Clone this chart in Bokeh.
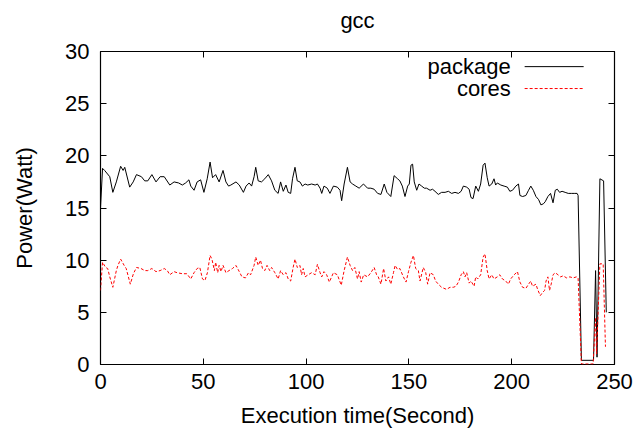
from bokeh.plotting import figure
from bokeh.models import LinearAxis, Range1d, Label, Arrow, FixedTicker
from bokeh.embed import file_html
from bokeh.resources import INLINE

# ---- data ----
pkg_t = [0, 1, 2, 4.5, 6, 7.7, 9.8, 11, 11.8, 14.2, 15.9, 17.5, 19.9, 21.5, 23, 25, 27, 29, 31, 33.7,
         35.8, 38, 39.8, 41.4, 43, 43.9, 45.5, 47, 48.7, 50.3, 51.9, 53.3, 54.5, 56, 57.7, 59.6, 61, 62.3,
         63.4, 65.9, 67.5, 69.5, 70.8, 72.3, 73.5, 74.7, 75.5, 76.7, 78.3, 79.9, 81.6, 83.2, 84.8, 86.4,
         87.6, 88.9, 90.2, 91.3, 92.5, 93.4, 94.6, 95.7, 97, 98.2, 99.5, 100.8, 102.7, 104.4, 105.5, 106.8,
         107.6, 108.7, 110.3, 111.6, 113.3, 115.2, 116.5, 117.3, 118.5, 120.1, 121.4, 122.6, 124.2, 125.8,
         127.9, 129.9, 131.5, 133.1, 134.8, 136.4, 138, 139.3, 141.2, 142.8, 144.5, 145.6, 146.8, 148.1,
         149.4, 150.2, 151, 151.8, 152.6, 153.8, 154.9, 156.2, 157.5, 158.6, 160.3, 161.5, 162.7, 164.3,
         165.9, 167.6, 169.2, 170.8, 172.4, 174.1, 175.4, 176.5, 178.1, 179.3, 180.2, 181.2, 182.5, 183.8,
         184.9, 186.1, 187, 188.1, 189, 190.3, 191.4, 192.2, 193, 194.7, 196.3, 197.9, 199.1, 200.4, 202,
         203.3, 204, 205.3, 206.9, 208.2, 209.3, 210.5, 211.8, 213.1, 214.2, 215.4, 216.3, 217.6, 218.9,
         220.1, 221.2, 222.2, 223.3, 224.5, 226, 227.5, 229, 230.7, 231.8, 232.3, 233.9, 239.8, 240.8,
         241.5, 242.9, 244.7, 246]
pkg_w = [15.0, 18.8, 18.6, 18.0, 16.5, 17.5, 19.0, 18.6, 18.9, 17.0, 17.5, 18.2, 18.0, 17.6, 17.6, 18.2,
         17.5, 18.0, 18.0, 17.2, 17.5, 17.4, 17.2, 17.4, 17.7, 17.1, 16.7, 17.5, 17.7, 16.5, 17.8, 19.4,
         17.9, 18.2, 17.5, 18.6, 17.5, 17.1, 17.2, 17.5, 17.2, 16.5, 17.1, 17.4, 17.1, 18.0, 18.9, 17.6,
         17.5, 17.8, 18.2, 17.6, 16.7, 16.4, 17.5, 16.6, 17.2, 16.5, 16.4, 17.8, 18.9, 17.6, 17.5, 17.1,
         17.3, 17.2, 17.3, 17.2, 17.3, 16.9, 16.4, 17.1, 16.9, 16.4, 17.1, 17.0, 16.7, 15.7, 17.3, 18.9,
         17.5, 17.3, 17.1, 16.9, 17.3, 16.9, 16.9, 16.8, 16.4, 16.3, 17.3, 16.5, 16.1, 18.1, 17.8, 17.6,
         17.1, 16.1, 17.1, 17.3, 19.1, 19.2, 17.5, 16.7, 17.3, 17.1, 16.9, 16.9, 16.7, 16.8, 16.6, 16.3,
         16.5, 16.5, 16.6, 16.4, 16.5, 16.4, 16.6, 17.1, 17.0, 16.8, 16.0, 15.9, 17.1, 16.6, 17.3, 19.1,
         19.3, 17.9, 17.1, 17.3, 17.8, 17.2, 17.4, 17.2, 17.1, 17.0, 16.6, 16.7, 17.1, 17.3, 16.2, 16.1,
         16.2, 16.7, 17.1, 16.7, 16.1, 15.8, 15.3, 15.4, 15.6, 16.1, 16.4, 15.5, 16.7, 16.8, 16.5, 16.6,
         16.5, 16.4, 16.4, 16.4, 16.4, 16.2, 0.4, 0.4, 9.0, 0.7, 17.8, 17.6, 5.0]

core_t = [0, 1, 2.5, 3.5, 4.5, 6, 7.7, 8.5, 9.8, 11.5, 12.5, 14.5, 16, 17.5, 19.7, 21.5, 23, 25, 27, 29,
          31, 32.5, 33.7, 35.8, 37.2, 39.8, 42, 43.9, 45.5, 47, 48.3, 49.6, 50.8, 52, 53.3, 54.2, 55.4,
          56, 57, 57.7, 58.6, 59.6, 61, 62.5, 64.2, 65.9, 67.5, 68.8, 70.5, 72, 73, 74.7, 75.5, 76.7, 77.8,
          78.8, 79.9, 81, 82.3, 83.2, 84.8, 86.4, 87.6, 88.9, 90.2, 91.3, 92.5, 93.7, 94.6, 95.7, 97, 97.8,
          98.6, 99.5, 101, 102.7, 104.4, 105.5, 106.8, 107.6, 108.7, 110, 111.3, 113.3, 115.2, 117.1,
          118.5, 120.1, 121.4, 122.6, 123.7, 125, 125.8, 126.8, 128, 129.9, 131.5, 133.1, 134.3, 135.1,
          136.4, 137.7, 138.8, 140.1, 141.2, 142.5, 143.3, 144.5, 145.6, 147.3, 148.6, 149.8, 151, 152.2,
          153.3, 154.6, 155.4, 157, 158.2, 159.1, 160.3, 161.9, 163, 164.3, 165.9, 168.3, 170, 171.6,
          172.9, 174.1, 175.4, 176.5, 177.3, 178.1, 179.3, 180.2, 181.7, 182.5, 183.5, 184.9, 186.1, 187,
          188.1, 189, 190.3, 191.4, 193, 194.2, 195.5, 197.1, 198.4, 199.5, 201.2, 202.8, 204, 205.3,
          206.9, 208.2, 209.3, 210.1, 211.8, 212.6, 213.9, 215, 216, 216.7, 217.6, 218.4, 219.2, 220.1,
          221.2, 222.5, 223.8, 225, 226.7, 228.3, 229.9, 231.5, 232.3, 233.9, 239.6, 240.8, 241.3, 242.9,
          244.5, 245.6]
core_w = [7.1, 9.8, 9.3, 9.2, 8.4, 7.4, 9.0, 9.5, 10.1, 9.5, 9.2, 7.7, 8.7, 9.3, 9.2, 9.0, 9.0, 9.2, 8.9,
          9.0, 9.2, 9.0, 8.6, 8.9, 8.8, 8.7, 8.7, 8.2, 8.8, 9.2, 9.3, 8.2, 8.05, 8.8, 10.45, 10.1, 9.0,
          9.8, 8.8, 9.5, 8.9, 9.5, 8.8, 9.0, 9.2, 9.5, 8.9, 8.4, 8.3, 8.8, 8.6, 9.5, 10.3, 9.5, 10.0, 9.2,
          9.0, 9.5, 9.0, 9.3, 8.8, 8.2, 9.0, 8.6, 8.8, 8.2, 8.0, 9.3, 10.1, 9.3, 9.5, 8.6, 9.2, 8.4, 8.6,
          8.8, 8.6, 9.6, 8.8, 8.4, 8.9, 8.6, 7.9, 8.8, 8.6, 7.6, 9.0, 10.3, 9.5, 9.0, 9.3, 8.2, 8.9, 7.9,
          8.6, 8.4, 8.8, 9.3, 8.6, 8.4, 7.7, 9.2, 8.0, 8.4, 7.7, 8.8, 9.5, 9.1, 9.2, 8.4, 7.9, 8.9, 9.8,
          10.45, 9.2, 9.0, 8.0, 9.3, 8.8, 7.7, 8.8, 8.6, 8.0, 7.7, 7.4, 7.2, 7.4, 7.4, 7.5, 7.9, 8.6, 8.9,
          8.4, 8.8, 7.8, 8.0, 7.5, 8.4, 8.2, 8.6, 10.3, 10.6, 9.0, 8.2, 8.6, 8.2, 8.4, 8.6, 8.2, 8.0, 7.7,
          8.2, 8.6, 8.9, 7.9, 7.4, 7.3, 7.7, 8.0, 7.5, 7.7, 7.2, 6.6, 6.9, 7.1, 8.0, 8.4, 7.1, 7.7, 8.6,
          8.8, 8.6, 8.4, 8.5, 8.3, 8.4, 8.3, 8.4, 8.3, 0.05, 0.05, 4.5, 1.0, 9.65, 9.65, 1.7]

x_ticks = [0, 50, 100, 150, 200, 250]
y_ticks = [0, 5, 10, 15, 20, 25, 30]
series_names = ["package", "cores"]
title_text = "gcc"

FONT = "Liberation Sans"
FS = "22px"

p = figure(width=635, height=438, output_backend="svg", toolbar_location=None,
           x_range=Range1d(0, 250), y_range=Range1d(0, 30),
           x_axis_location=None, y_axis_location=None,
           min_border_left=100, min_border_right=21, min_border_top=51, min_border_bottom=74)
p.background_fill_color = "white"
p.border_fill_color = "white"
p.outline_line_color = "black"
p.outline_line_width = 1.2
p.xgrid.visible = False
p.ygrid.visible = False

def style_axis(ax, ticks, labels=True, label=None):
    ax.ticker = FixedTicker(ticks=ticks)
    ax.axis_line_color = None
    ax.major_tick_in = 6
    ax.major_tick_out = 0
    ax.major_tick_line_color = "black"
    ax.minor_tick_line_color = None
    ax.major_label_text_font = FONT
    ax.major_label_text_font_size = FS
    ax.major_label_text_color = "black"
    if not labels:
        ax.major_label_text_font_size = "0px"
        ax.major_label_text_color = None
        ax.major_label_standoff = 0
    if label:
        ax.axis_label = label
        ax.axis_label_text_font = FONT
        ax.axis_label_text_font_size = FS
        ax.axis_label_text_font_style = "normal"
        ax.axis_label_text_color = "black"

xb = LinearAxis(); style_axis(xb, x_ticks, True, "Execution time(Second)")
xb.major_label_standoff = 9
xb.axis_label_standoff = 11
yl = LinearAxis(); style_axis(yl, y_ticks, True, "Power(Watt)")
yl.major_label_standoff = 11
yl.axis_label_standoff = 25
# top axis carries the mirrored ticks and the chart title
xt = LinearAxis(); style_axis(xt, x_ticks, False, title_text)
xt.axis_label_standoff = 19
yr = LinearAxis(); style_axis(yr, y_ticks, False)
p.add_layout(xb, "below")
p.add_layout(yl, "left")
p.add_layout(xt, "above")
p.add_layout(yr, "right")

p.line(pkg_t, pkg_w, line_color="black", line_width=1)
p.line(core_t, core_w, line_color="red", line_width=1, line_dash="3 2")

# gnuplot-style key: text on the left, sample on the right
key_y = [28.55, 26.45]
key_styles = [dict(line_color="black", line_dash="solid"), dict(line_color="red", line_dash="3 2")]
for name, ky, st in zip(series_names, key_y, key_styles):
    p.add_layout(Label(x=199.5, y=ky, text=name, text_align="right", text_baseline="middle",
                       text_font=FONT, text_font_size=FS, text_color="black"))
    p.add_layout(Arrow(end=None, start=None, x_start=206.3, y_start=ky, x_end=235, y_end=ky,
                       line_width=1, **st))

open("out.html", "w").write(file_html(p, INLINE))
